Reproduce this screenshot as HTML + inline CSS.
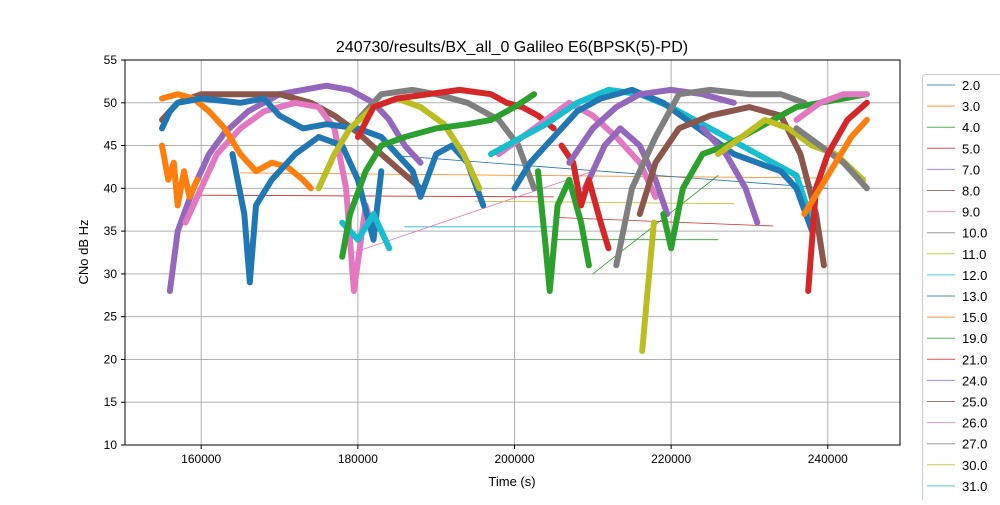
<!DOCTYPE html>
<html><head><meta charset="utf-8"><style>
body{margin:0;background:#fff;}
svg text{font-family:"Liberation Sans","DejaVu Sans",sans-serif;}
</style></head><body>
<svg id="chart" width="1000" height="500" viewBox="0 0 1000 500" xmlns="http://www.w3.org/2000/svg">
<rect width="1000" height="500" fill="#fff"/>
<text x="512" y="52" font-size="16" text-anchor="middle">240730/results/BX_all_0 Galileo E6(BPSK(5)-PD)</text>
<g id="grid"></g>
<g id="plot" clip-path="url(#clip)"></g>
<clipPath id="clip"><rect x="125" y="60" width="775" height="385"/></clipPath>
<rect x="125" y="60" width="775" height="385" fill="none" stroke="#000" stroke-width="1"/>
<g id="axes"></g>
<text x="512" y="486" font-size="13" text-anchor="middle">Time (s)</text>
<text x="88" y="252" font-size="13" text-anchor="middle" transform="rotate(-90 88 252)">CNo dB Hz</text>
<g id="legend"></g>
</svg>
<script>
const xTicks=[160000,180000,200000,220000,240000];
const yTicks=[10,15,20,25,30,35,40,45,50,55];
const legendLabels=["2.0","3.0","4.0","5.0","7.0","8.0","9.0","10.0","11.0","12.0","13.0","15.0","19.0","21.0","24.0","25.0","26.0","27.0","30.0","31.0","33.0"];
const blueTop=[[155000,47],[156000,49],[157000,50],[160000,50.5],[165000,50],[168000,50.5],[170000,48.5],[173000,47],[176000,47.5],[180000,47],[183000,46],[185000,44],[187000,42],[188000,39],[190000,44],[192000,45],[194000,43],[196000,38]];
const blueDip=[[164000,44],[165500,37],[166200,29],[167000,38],[169000,41],[172000,44],[175000,46],[178000,45],[180000,41],[182000,34],[183000,42]];
const blueArc=[[200000,40],[202000,43],[205000,46],[208000,49],[211000,50.5],[215000,51.5],[219000,50],[222000,48],[225000,46],[228000,44],[231000,43],[234000,42],[236000,40],[238000,35]];
const orangeTop=[[155000,50.5],[157000,51],[159000,50.5],[161000,49],[163000,47],[165000,44],[167000,42],[169000,43],[171000,42.5],[173000,41],[174000,40]];
const orangeLow=[[155000,45],[155800,41],[156500,43],[157000,38],[157800,42],[158500,39],[159500,41]];
const orangeRight=[[237000,37],[239000,40],[241000,43],[243000,46],[245000,48]];
const greenMid=[[178000,32],[179000,37],[181000,42],[183000,45],[186000,46],[190000,47],[194000,47.5],[197000,48],[200000,49.5],[202500,51]];
const greenDip=[[203000,42],[204000,33],[204500,28],[205500,38],[207000,41],[208500,36],[209500,31]];
const greenRight=[[219000,37],[220000,33],[221500,40],[224000,44],[227000,45],[230000,46.5],[233000,48],[236000,49.5],[239000,50],[242000,50.5],[245000,51]];
const redTop=[[180000,46],[182000,49.5],[185000,50.5],[189000,51],[193000,51.5],[197000,51],[199000,50],[201000,49.5],[203000,48.5],[205000,47]];
const redMid=[[206000,45],[207500,43],[208500,38],[209500,41],[211000,36],[212000,33]];
const redRight=[[237500,28],[238500,40],[240000,44],[242500,48],[245000,50]];
const purpleLeft=[[156000,28],[157000,35],[159000,40],[161000,44],[163000,46.5],[166000,49],[170000,51],[173000,51.5],[176000,52],[179000,51.5],[182000,50],[184000,48],[186000,45],[188000,43]];
const purpleRight=[[207000,43],[210000,47],[213000,49.5],[216000,51],[220000,51.5],[224000,51],[228000,50]];
const purpleArc=[[209000,40],[211500,45],[213500,47],[216000,45],[218000,41],[219500,37]];
const purpleLate=[[224000,47],[227000,44],[229500,40],[231000,36]];
const brownLeft=[[155000,48],[157000,50],[160000,51],[165000,51],[170000,51],[174000,50],[177000,48.5],[180000,46.5],[183000,44],[185500,42],[188000,40]];
const brownRight=[[216000,37],[218000,43],[221000,47],[225000,48.5],[230000,49.5],[234000,48.5],[236500,44],[238500,37],[239500,31]];
const pinkLeft=[[158000,36],[160000,40],[162000,44],[165000,47],[168000,49],[172000,50],[175000,49.5],[177000,47],[178500,40],[179500,28],[181000,38],[182000,35]];
const pinkRight=[[198000,44],[201000,46],[204000,48],[207000,50],[210000,48.5],[213000,46],[216000,43],[218000,39]];
const pinkEnd=[[236000,48],[239000,50],[242000,51],[245000,51]];
const grayTop=[[180000,48],[183000,51],[187000,51.5],[190000,51],[194000,50],[198000,48],[200500,45],[202500,40]];
const grayRight=[[213000,31],[215000,40],[218000,46],[221000,51],[225000,51.5],[230000,51],[234000,51],[237000,50]];
const grayEnd=[[236000,47],[239000,45],[242000,43],[245000,40]];
const oliveLeft=[[175000,40],[177000,44],[179000,47],[182000,49.5],[185000,50.5],[188000,49.5],[191000,47.5],[193500,44],[195500,40]];
const oliveDip=[[216300,21],[217000,28],[217800,36]];
const oliveRight=[[226000,44],[229000,46],[232000,48],[235000,47],[238000,45],[241000,44],[244500,41]];
const cyanLeft=[[178000,36],[180000,34],[182000,37],[184000,33]];
const cyanArc=[[197000,44],[200000,45.5],[204000,47.5],[208000,50],[212000,51.5],[216000,51],[220000,49.5],[224000,47.5],[228000,45.5],[232000,43.5],[236000,41.5],[238000,36]];
const thinOrange=[[165000,41.8],[240000,41.2]];
const thinRed=[[160000,39.2],[205000,39]];
const thinBlue=[[185000,43.8],[240000,40]];
const thinCyan=[[186000,35.5],[205000,35.5]];
const thinGreen=[[205000,34],[226000,34]];
const thinPink=[[179500,32.5],[210000,42]];
const thinGreen2=[[210000,30],[226000,41.5]];
const thinRedLow=[[205000,36.6],[233000,35.6]];
const thinOlive=[[195000,38.5],[228000,38.2]];

const C={blue:"#1f77b4",orange:"#ff7f0e",green:"#2ca02c",red:"#d62728",purple:"#9467bd",brown:"#8c564b",pink:"#e377c2",gray:"#7f7f7f",olive:"#bcbd22",cyan:"#17becf"};
const tab=[C.blue,C.orange,C.green,C.red,C.purple,C.brown,C.pink,C.gray,C.olive,C.cyan];
const NS="http://www.w3.org/2000/svg";
const X0=150270,X1=249220,Y0=10,Y1=55;
function sx(t){return 125+(t-X0)/(X1-X0)*775;}
function sy(v){return 445-(v-Y0)/(Y1-Y0)*385;}
function mk(tag,attrs,parent){const e=document.createElementNS(NS,tag);for(const k in attrs)e.setAttribute(k,attrs[k]);parent.appendChild(e);return e;}
const grid=document.getElementById('grid'),axes=document.getElementById('axes'),plot=document.getElementById('plot'),legend=document.getElementById('legend');
xTicks.forEach(t=>{const x=sx(t);
 const g=mk('line',{x1:x,x2:x,y1:60,y2:445,stroke:'#b0b0b0','stroke-width':1},grid);
 const k=mk('line',{x1:x,x2:x,y1:445,y2:449,stroke:'#000'},axes);
 const l=mk('text',{x:x,y:463,'font-size':12,'text-anchor':'middle'},axes);l.textContent=t;});
yTicks.forEach(v=>{const y=sy(v);
 const g=mk('line',{x1:125,x2:900,y1:y,y2:y,stroke:'#b0b0b0','stroke-width':1},grid);
 const k=mk('line',{x1:121,x2:125,y1:y,y2:y,stroke:'#000'},axes);
 const l=mk('text',{x:117,y:y+4,'font-size':12,'text-anchor':'end'},axes);l.textContent=v;});
function draw(data,color,w,name){const d=data.map((p,i)=>(i?'L':'M')+sx(p[0]).toFixed(1)+' '+sy(p[1]).toFixed(1)).join(' ');
 const p=mk('path',{d:d,fill:'none',stroke:color,'stroke-width':w,'stroke-linejoin':'round','stroke-linecap':'round'},plot);
 
 }
[[thinOrange,C.orange],[thinRed,C.red],[thinBlue,C.blue],[thinCyan,C.cyan],[thinGreen,C.green],[thinPink,C.pink],[thinGreen2,C.green],[thinRedLow,C.red],[thinOlive,C.olive]].forEach(a=>draw(a[0],a[1],0.8,'connector-line'));
const thick=[[purpleLeft,C.purple],[brownLeft,C.brown],[pinkLeft,C.pink],[orangeLow,C.orange],[orangeTop,C.orange],[blueTop,C.blue],[blueDip,C.blue],[grayTop,C.gray],[oliveLeft,C.olive],[cyanLeft,C.cyan],[redTop,C.red],[greenMid,C.green],[greenDip,C.green],[pinkRight,C.pink],[purpleArc,C.purple],[redMid,C.red],[cyanArc,C.cyan],[blueArc,C.blue],[purpleRight,C.purple],[grayRight,C.gray],[brownRight,C.brown],[purpleLate,C.purple],[oliveDip,C.olive],[greenRight,C.green],[oliveRight,C.olive],[grayEnd,C.gray],[pinkEnd,C.pink],[redRight,C.red],[orangeRight,C.orange]];
thick.forEach(a=>draw(a[0],a[1],6,'cno-series'));
const lb=mk('rect',{x:922.5,y:74.5,width:90,height:440,fill:'#fff',stroke:'#ccc',rx:3},legend);
legendLabels.forEach((s,i)=>{const y=85+i*21.1;const c=tab[i%10];
 const l=mk('line',{x1:927,x2:955,y1:y,y2:y,stroke:c,'stroke-width':1,opacity:0.8},legend);
 const t=mk('text',{x:962,y:y+5,'font-size':13},legend);t.textContent=s;});
</script>
</body></html>
